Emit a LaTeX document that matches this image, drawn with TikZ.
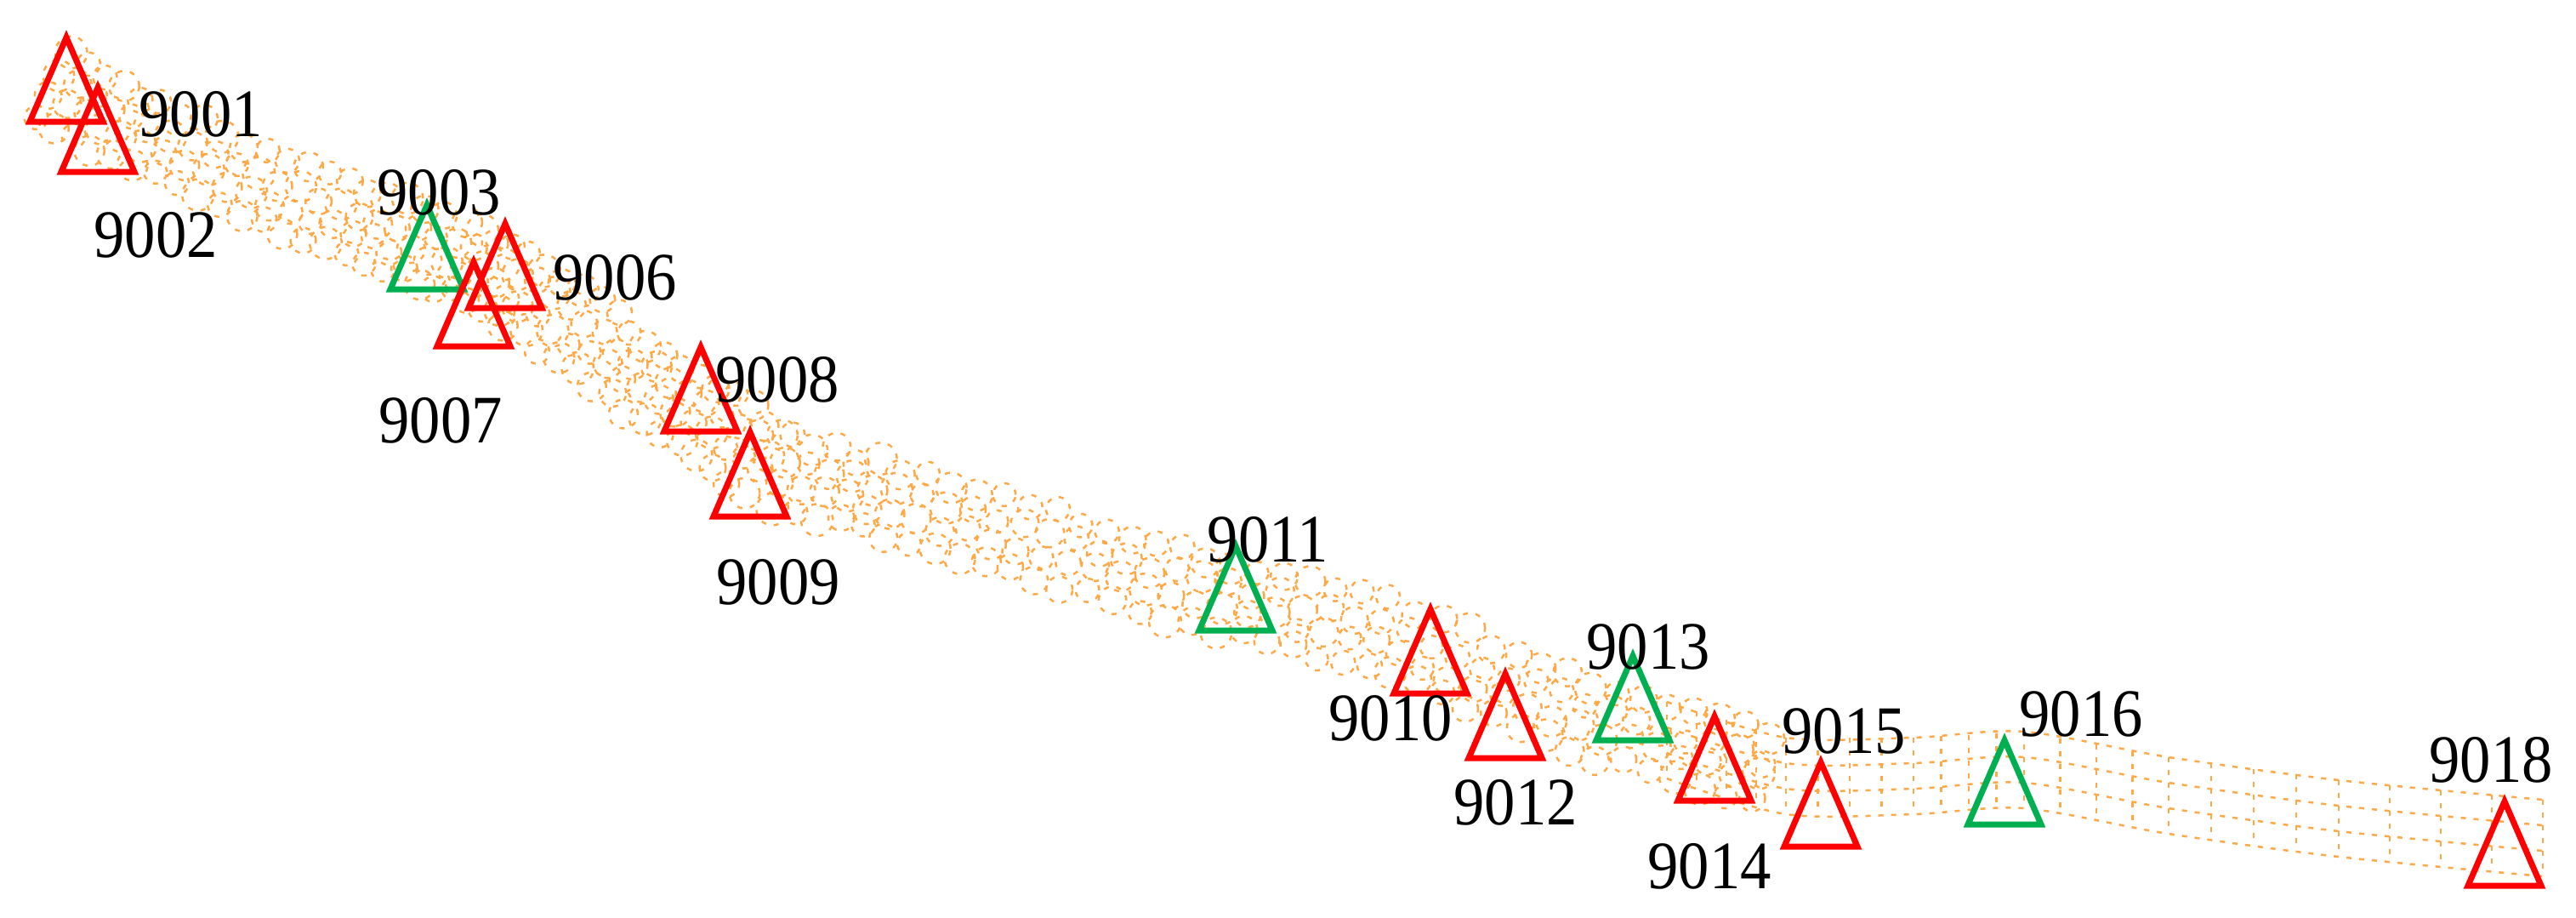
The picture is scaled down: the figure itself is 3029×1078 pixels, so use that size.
\documentclass[tikz,border=0pt]{standalone}
\usepackage{fontspec}
\setmainfont[FakeStretch=0.91]{Liberation Serif}
\usetikzlibrary{calc}
\definecolor{bandor}{RGB}{255,168,70}
\definecolor{stgreen}{RGB}{0,176,80}
\definecolor{stred}{RGB}{255,0,0}
\newcommand\stn[4]{\draw[tri,draw=#4] (#2,#3) coordinate (#1) -- ++(43,99) -- ++(-86,0) -- cycle;}
\begin{document}
\begin{tikzpicture}[x=0.01cm,y=-0.01cm,
  tri/.style={line width=0.07cm, line join=miter},
  lbl/.style={anchor=base, inner sep=0pt, font=\fontsize{22.7}{27}\selectfont},
  bandline/.style={draw=bandor, line width=0.025cm, dash pattern=on 0.06cm off 0.09cm}]
\useasboundingbox (0,0) rectangle (3029,1078);
\pgfmathsetseed{7}
% ---- corridor centre line (left part)
\foreach \n/\px/\py in {1/62/102, 2/170/160, 3/300/215, 4/420/262, 5/530/300, 6/620/345, 7/720/420, 8/820/490, 9/920/555, 10/1050/590, 11/1200/630, 12/1350/680, 13/1500/715, 14/1650/755, 15/1800/820, 16/1950/870, 17/2100/912}
  {\coordinate (c\n) at (\px,\py);}
% overlapping dashed circles
\foreach \i in {1,...,16}{
  \pgfmathtruncatemacro{\j}{\i+1}
  \foreach \t in {0,0.2,0.4,0.6,0.8}{
    \foreach \o in {-0.4,-0.13,0.13,0.4}{
      \pgfmathsetmacro{\oo}{\o+0.08*rand}
      \pgfmathsetmacro{\rr}{0.13+0.06*rnd}
      \draw[bandline] ($($(c\i)!\t!(c\j)$)!\oo cm!90:(c\j)$) circle[radius=\rr cm];
    }
  }
}
% ---- right part: long dashed lines with cross ticks
\foreach \n/\px/\py in {1/1960/870, 2/2100/912, 3/2250/912, 4/2380/905, 5/2550/935, 6/2750/962, 7/2990/985}
  {\coordinate (r\n) at (\px,\py);}
\foreach \s in {-0.45,-0.15,0.15,0.45}{
 \draw[bandline, yshift=\s cm] plot[smooth, tension=0.5] coordinates {(1960,870) (2100,912) (2250,912) (2380,905) (2550,935) (2750,962) (2990,985)};
}
\foreach \i in {1,...,6}{
  \pgfmathtruncatemacro{\j}{\i+1}
  \foreach \t in {0,0.25,0.5,0.75}{
    \draw[bandline] ($($(r\i)!\t!(r\j)$)+(0,-45)$) -- ($($(r\i)!\t!(r\j)$)+(0,45)$);
  }
}
\draw[bandline] ($(r7)+(0,-45)$) -- ($(r7)+(0,45)$);
% ---- stations
\stn{s9001}{78}{44}{stred}
\stn{s9002}{115}{103}{stred}
\stn{s9003}{502}{241}{stgreen}
\stn{s9006}{594}{263}{stred}
\stn{s9007}{557}{308}{stred}
\stn{s9008}{824}{408}{stred}
\stn{s9009}{882}{508}{stred}
\stn{s9011}{1453}{642}{stgreen}
\stn{s9010}{1682}{716}{stred}
\stn{s9012}{1770}{792}{stred}
\stn{s9013}{1920}{771}{stgreen}
\stn{s9014}{2016}{842}{stred}
\stn{s9015}{2141}{896}{stred}
\stn{s9016}{2357}{870}{stgreen}
\stn{s9018}{2945}{942}{stred}
% ---- labels
\node[lbl] (l9001) at (236,160) {9001};
\node[lbl] (l9002) at (183,302) {9002};
\node[lbl] (l9003) at (516,252) {9003};
\node[lbl] (l9006) at (723,352) {9006};
\node[lbl] (l9007) at (518,520) {9007};
\node[lbl] (l9008) at (914,472) {9008};
\node[lbl] (l9009) at (915,710) {9009};
\node[lbl] (l9011) at (1491,660) {9011};
\node[lbl] (l9010) at (1635,870) {9010};
\node[lbl] (l9012) at (1782,969) {9012};
\node[lbl] (l9013) at (1938,786) {9013};
\node[lbl] (l9014) at (2010,1044) {9014};
\node[lbl] (l9015) at (2168,885) {9015};
\node[lbl] (l9016) at (2447,865) {9016};
\node[lbl] (l9018) at (2929,919) {9018};
\end{tikzpicture}
\end{document}
